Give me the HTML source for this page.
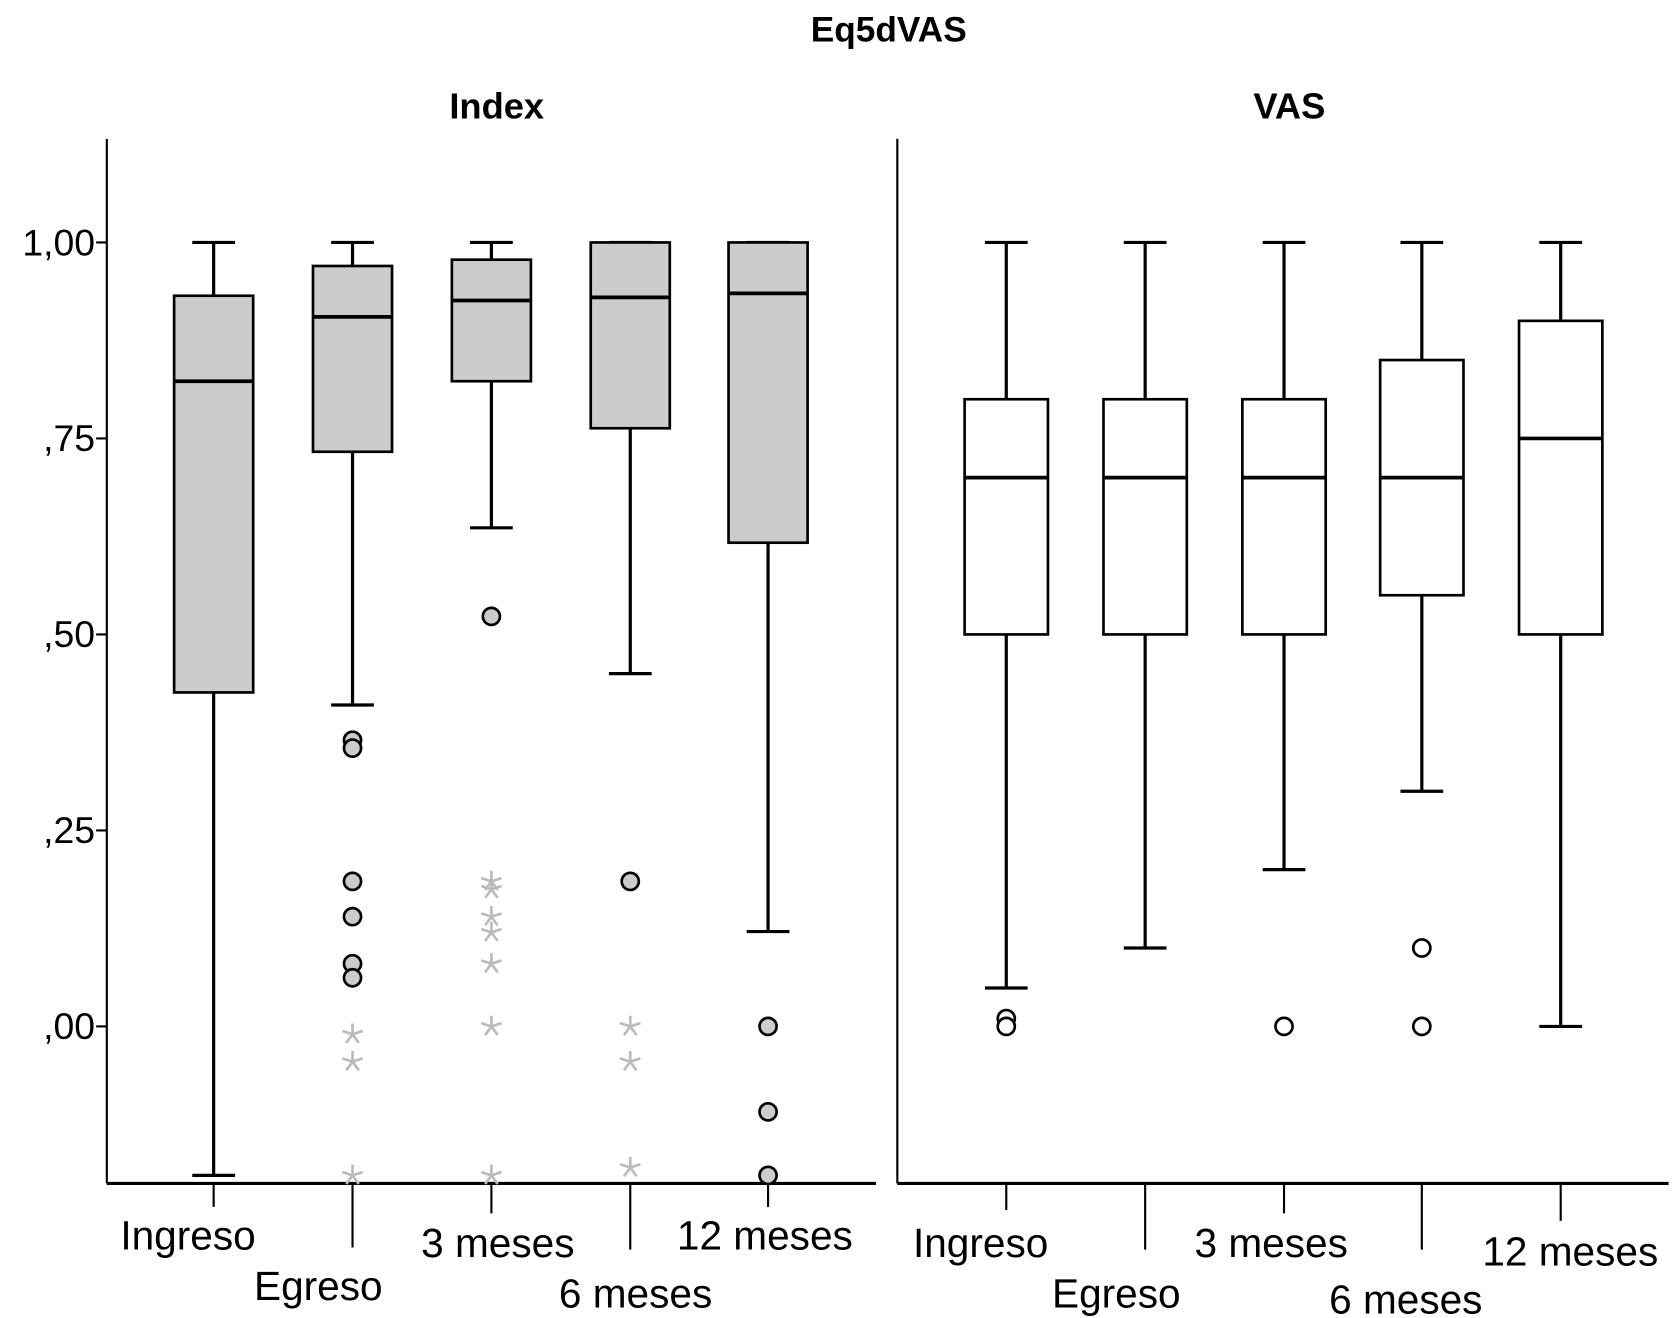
<!DOCTYPE html>
<html><head><meta charset="utf-8"><style>
html,body{margin:0;padding:0;background:#fff;}
svg{display:block;}
text{font-family:"Liberation Sans",sans-serif;}
</style></head><body>
<svg id="chart" width="1675" height="1318" viewBox="0 0 1568 1234" preserveAspectRatio="none" xmlns="http://www.w3.org/2000/svg">
<text x="832" y="39" font-size="33" font-weight="bold" text-anchor="middle">Eq5dVAS</text>
<text x="465" y="111" font-size="34" font-weight="bold" text-anchor="middle">Index</text>
<text x="1207" y="111" font-size="34" font-weight="bold" text-anchor="middle">VAS</text>
<g id="plot"></g>
</svg>
<script>
const categories = ["Ingreso","Egreso","3 meses","6 meses","12 meses"];
const yTicks = [1.0, 0.75, 0.5, 0.25, 0.0];
const yTickLabels = ["1,00", ",75", ",50", ",25", ",00"];
// Index panel: [low whisker, q1, median, q3, high whisker]
const indexLow = [-0.19, 0.41, 0.636, 0.45, 0.121];
const indexQ1 = [0.426, 0.733, 0.823, 0.763, 0.617];
const indexMed = [0.823, 0.905, 0.926, 0.93, 0.935];
const indexQ3 = [0.932, 0.97, 0.978, 1.0, 1.0];
const indexHigh = [1.0, 1.0, 1.0, 1.0, 1.0];
const indexCircles = [[], [0.365,0.355,0.185,0.14,0.08,0.062], [0.523], [0.185], [0.0,-0.109,-0.19]];
const indexStars = [[], [-0.01,-0.045,-0.19], [0.185,0.175,0.14,0.12,0.08,0.0,-0.19], [0.0,-0.045,-0.18], []];
// VAS panel
const vasLow = [0.049, 0.1, 0.2, 0.3, 0.0];
const vasQ1 = [0.5, 0.5, 0.5, 0.55, 0.5];
const vasMed = [0.7, 0.7, 0.7, 0.7, 0.75];
const vasQ3 = [0.8, 0.8, 0.8, 0.85, 0.9];
const vasHigh = [1.0, 1.0, 1.0, 1.0, 1.0];
const vasCircles = [[0.01,0.0], [], [0.0], [0.1,0.0], []];

const NS = "http://www.w3.org/2000/svg";
const g = document.getElementById("plot");
function el(tag, attrs, parent){const e=document.createElementNS(NS,tag);for(const k in attrs)e.setAttribute(k,attrs[k]);(parent||g).appendChild(e);return e;}
function y(v){return 961 - v*734;}

const panels = [
  {name:"index", x0:100, x1:820, xs:[200,330,460,590,719], bw:74, fill:"#cccccc", low:indexLow,q1:indexQ1,med:indexMed,q3:indexQ3,high:indexHigh,circles:indexCircles,stars:indexStars,cfill:"#cccccc",
   tickEnd:[1130,1168,1136,1170,1130], lab:[[176,1170],[298,1217],[466,1177],[595,1224],[716,1170]]},
  {name:"vas", x0:840, x1:1562, xs:[942,1072,1202,1331,1461], bw:78, fill:"#ffffff", low:vasLow,q1:vasQ1,med:vasMed,q3:vasQ3,high:vasHigh,circles:vasCircles,stars:[[],[],[],[],[]],cfill:"#ffffff",
   tickEnd:[1133,1170,1136,1170,1143], lab:[[918,1177],[1045,1224],[1190,1177],[1316,1230],[1470,1185]]}
];

panels.forEach(p=>{
  const ax = el("line",{x1:p.x0,y1:130,x2:p.x0,y2:1108,stroke:"#000","stroke-width":2});
  
  
  const bx = el("line",{x1:p.x0,y1:1108,x2:p.x1,y2:1108,stroke:"#000","stroke-width":3});
  
  
  if(p.name==="index"){
    yTicks.forEach((t,i)=>{
      const tk = el("line",{x1:p.x0-10,y1:y(t),x2:p.x0,y2:y(t),stroke:"#000","stroke-width":2});
      
      
      const tl = el("text",{x:p.x0-11,y:y(t)+12,"font-size":35,"text-anchor":"end"});
      tl.textContent = yTickLabels[i];
      
      
    });
  }
  categories.forEach((c,i)=>{
    const cx = p.xs[i];
    const tk = el("line",{x1:cx,y1:1108,x2:cx,y2:p.tickEnd[i],stroke:"#000","stroke-width":2});
    
    
    const lb = el("text",{x:p.lab[i][0],y:p.lab[i][1],"font-size":38,"text-anchor":"middle"});
    lb.textContent = c;
    
    
    const wl = el("line",{x1:cx,y1:y(p.low[i]),x2:cx,y2:y(p.high[i]),stroke:"#000","stroke-width":3});
    
    
    [p.low[i],p.high[i]].forEach(v=>{
      const cap = el("line",{x1:cx-20,y1:y(v),x2:cx+20,y2:y(v),stroke:"#000","stroke-width":3});
      
      
    });
    const box = el("rect",{x:cx-p.bw/2,y:y(p.q3[i]),width:p.bw,height:y(p.q1[i])-y(p.q3[i]),fill:p.fill,stroke:"#000","stroke-width":2.5});
    
    
    const md = el("line",{x1:cx-p.bw/2,y1:y(p.med[i]),x2:cx+p.bw/2,y2:y(p.med[i]),stroke:"#000","stroke-width":3.5});
    
    
    p.circles[i].forEach(v=>{
      const o = el("circle",{cx:cx,cy:y(v),r:8,fill:p.cfill,stroke:"#000","stroke-width":2.5});
      
      
    });
    p.stars[i].forEach(v=>{
      const s = el("g",{stroke:"#bbbbbb","stroke-width":2.5});
      
      
      for(let k=0;k<5;k++){const a=-Math.PI/2+k*2*Math.PI/5;el("line",{x1:cx,y1:y(v),x2:cx+10*Math.cos(a),y2:y(v)+10*Math.sin(a)},s);}
    });
  });
});
</script>
</body></html>
